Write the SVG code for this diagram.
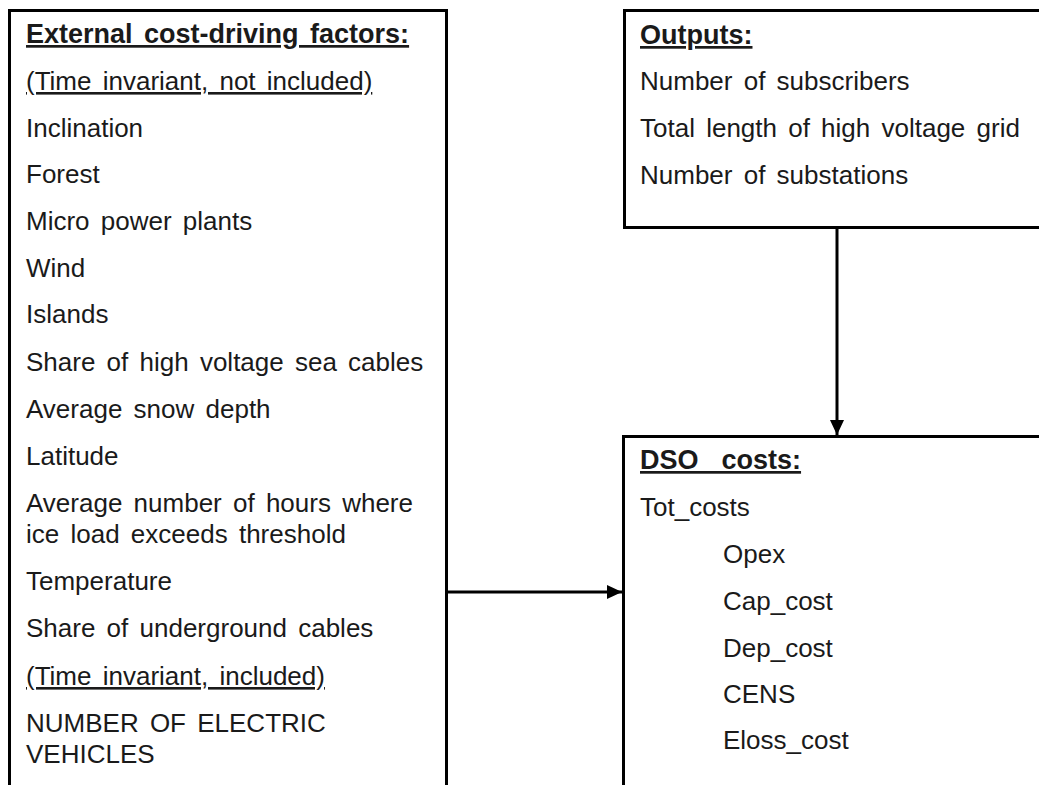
<svg xmlns="http://www.w3.org/2000/svg" width="1039" height="785" viewBox="0 0 1039 785">
<style>
.box{fill:#ffffff;stroke:#000000;stroke-width:3}
.t{font-family:"Liberation Sans",Arial,sans-serif;font-size:26px;fill:#1a1a1a;word-spacing:4px}
.h{font-weight:bold;font-size:27px;text-decoration:underline}
.u{text-decoration:underline}
.c{stroke:#000000;stroke-width:3;fill:none}
</style>
<defs>
<marker id="arr" markerWidth="15" markerHeight="14" refX="15" refY="7" orient="auto" markerUnits="userSpaceOnUse" viewBox="0 0 15 14">
<path d="M0,0 L15,7 L0,14 Z" fill="#000000"/>
</marker>
</defs>
<rect width="1039" height="785" fill="#ffffff"/>
<g id="connectors">
<line class="c" x1="837" y1="228" x2="837" y2="435" marker-end="url(#arr)"/>
<line class="c" x1="447" y1="592" x2="622" y2="592" marker-end="url(#arr)"/>
</g>
<g id="external">
<rect class="box" x="9.5" y="10.5" width="437" height="790"/>
<text class="t h" x="26" y="43">External cost-driving factors:</text>
<text class="t u" x="26" y="90">(Time invariant, not included)</text>
<text class="t" x="26" y="137">Inclination</text>
<text class="t" x="26" y="183">Forest</text>
<text class="t" x="26" y="230">Micro power plants</text>
<text class="t" x="26" y="277">Wind</text>
<text class="t" x="26" y="323">Islands</text>
<text class="t" x="26" y="371">Share of high voltage sea cables</text>
<text class="t" x="26" y="418">Average snow depth</text>
<text class="t" x="26" y="465">Latitude</text>
<text class="t" x="26" y="512">Average number of hours where</text>
<text class="t" x="26" y="543">ice load exceeds threshold</text>
<text class="t" x="26" y="590">Temperature</text>
<text class="t" x="26" y="637">Share of underground cables</text>
<text class="t u" x="26" y="685">(Time invariant, included)</text>
<text class="t" x="26" y="732">NUMBER OF ELECTRIC</text>
<text class="t" x="26" y="763">VEHICLES</text>
</g>
<g id="outputs">
<rect class="box" x="624.5" y="10.5" width="430" height="217"/>
<text class="t h" x="640" y="44">Outputs:</text>
<text class="t" x="640" y="90">Number of subscribers</text>
<text class="t" x="640" y="137">Total length of high voltage grid</text>
<text class="t" x="640" y="184">Number of substations</text>
</g>
<g id="dso">
<rect class="box" x="623.5" y="436.5" width="430" height="360"/>
<text class="t h" x="640" y="469" xml:space="preserve">DSO  costs:</text>
<text class="t" x="640" y="516">Tot_costs</text>
<text class="t" x="723" y="563">Opex</text>
<text class="t" x="723" y="610">Cap_cost</text>
<text class="t" x="723" y="657">Dep_cost</text>
<text class="t" x="723" y="703">CENS</text>
<text class="t" x="723" y="749">Eloss_cost</text>
</g>
</svg>
